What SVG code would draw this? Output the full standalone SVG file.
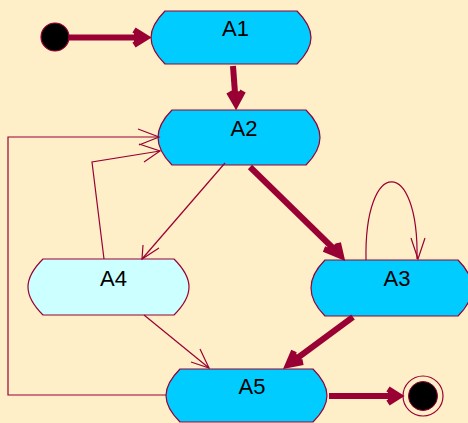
<svg xmlns="http://www.w3.org/2000/svg" width="468" height="423" viewBox="0 0 468 423">
<style>
.node{fill:#00CCFF;stroke:#990033;stroke-width:1.2}
.light{fill:#CCFFFF}
.lbl{font-family:"Liberation Sans",Arial,sans-serif;font-size:22px;fill:#000;text-anchor:middle}
.thick{fill:none;stroke:#990033;stroke-width:6;stroke-linejoin:miter;stroke-miterlimit:10}
.head{fill:#990033;stroke:#990033;stroke-width:6;stroke-linejoin:miter;stroke-miterlimit:10}
.thin{fill:none;stroke:#990033;stroke-width:1.2}
</style>
<rect x="0" y="0" width="468" height="423" fill="#FEEFC8"/>
<g id="start">
<circle cx="55" cy="37" r="14" fill="#000" stroke="#990033" stroke-width="1.2"/>
</g>
<g id="A1">
<path class="node" d="M165,11 H297 C304,18 311,27 311,37.5 C311,48 304,57 297,64 H165 C158,57 151,48 151,37.5 C151,27 158,18 165,11 Z"/>
<text class="lbl" x="235.5" y="36">A1</text>
</g>
<g id="A2">
<path class="node" d="M172,110 H306 C313,117 320,127 320,137.5 C320,148 313,158 306,165 H172 C165,158 158,148 158,137.5 C158,127 165,117 172,110 Z"/>
<text class="lbl" x="244" y="136">A2</text>
</g>
<g id="A4">
<path class="node light" d="M43,259 H174 C181,266 189,276 189,287 C189,298 181,308 174,315 H43 C36,308 28,298 28,287 C28,276 36,266 43,259 Z"/>
<text class="lbl" x="113.5" y="286">A4</text>
</g>
<g id="A3">
<path class="node" d="M325,260 H458 C465,267 472,277 472,288 C472,299 465,309 458,316 H325 C318,309 311,299 311,288 C311,277 318,267 325,260 Z"/>
<text class="lbl" x="397" y="286">A3</text>
</g>
<g id="A5">
<path class="node" d="M180,369 H313 C320,376 327,385 327,395.5 C327,406 320,415 313,422 H180 C173,415 166,406 166,395.5 C166,385 173,376 180,369 Z"/>
<text class="lbl" x="252" y="394">A5</text>
</g>
<g id="end">
<circle cx="423" cy="396" r="20" fill="#FEEFC8" stroke="#990033" stroke-width="1.2"/>
<circle cx="423" cy="396" r="14.5" fill="#000" stroke="#990033" stroke-width="1"/>
</g>
<g id="connectors">
<line class="thick" x1="69" y1="37.5" x2="144" y2="37.5"/>
<polyline class="head" points="134,30 146,37.5 134,45"/>
<line class="thick" x1="233" y1="66" x2="235.5" y2="100"/>
<polyline class="head" points="229,92 236,104 243,91"/>
<line class="thick" x1="250" y1="167" x2="337" y2="252"/>
<polyline class="head" points="324,249 341,256 338,243"/>
<line class="thick" x1="353" y1="317" x2="292" y2="362"/>
<polyline class="head" points="294,351 288,365 303,362"/>
<line class="thick" x1="329" y1="396" x2="396" y2="396"/>
<polyline class="head" points="388,389 399,396 388,403"/>
<polyline class="thin" points="225,163 142,259"/>
<polyline class="thin" points="143,245 142,259 159,248"/>
<polyline class="thin" points="104,259 92,162 160,151"/>
<polyline class="thin" points="139,144 160,151 144,162"/>
<polyline class="thin" points="166,395 8,395 8,137 159,137"/>
<polyline class="thin" points="138,129 159,137 139,145"/>
<polyline class="thin" points="144,315 209,368"/>
<polyline class="thin" points="200,349 209,368 191,362"/>
<path class="thin" d="M366,260 C364,156 419,156 417,259"/>
<polyline class="thin" points="411,238 418,259 425,238"/>
</g>
</svg>
